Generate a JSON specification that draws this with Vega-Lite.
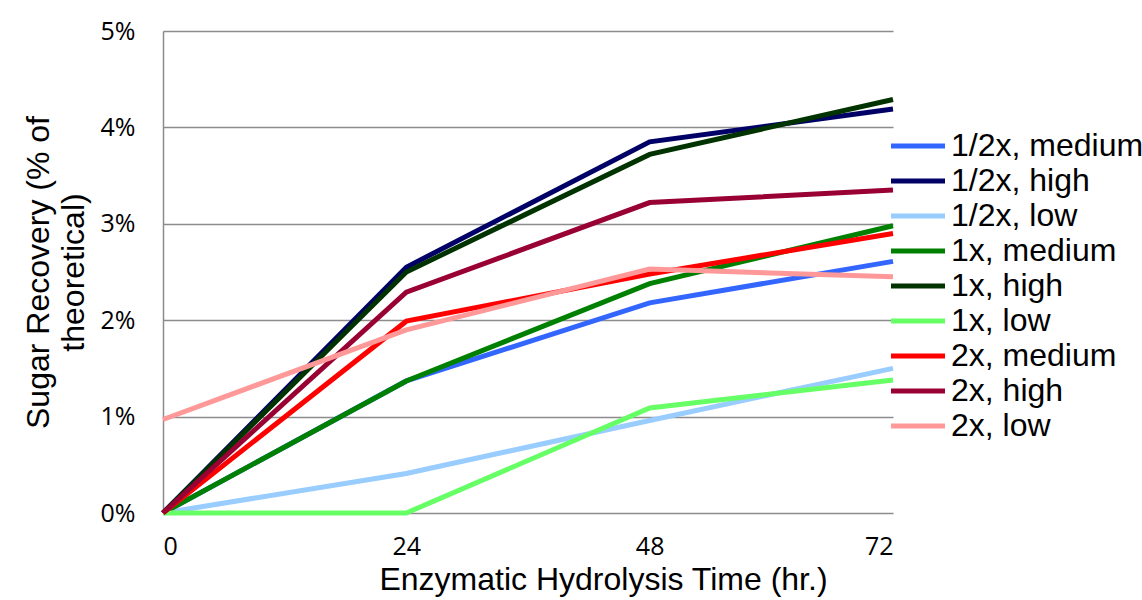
{
  "$schema": "https://vega.github.io/schema/vega-lite/v6.json",
  "width": 730,
  "height": 482,
  "autosize": {"type": "none"},
  "padding": {"left": 163, "top": 31, "right": 249, "bottom": 87},
  "background": "white",
  "data": {
    "values": [
      {"t": 0, "v": 0.0, "s": "1/2x, medium"},
      {"t": 24, "v": 1.37, "s": "1/2x, medium"},
      {"t": 48, "v": 2.18, "s": "1/2x, medium"},
      {"t": 72, "v": 2.61, "s": "1/2x, medium"},
      {"t": 0, "v": 0.0, "s": "1/2x, high"},
      {"t": 24, "v": 2.55, "s": "1/2x, high"},
      {"t": 48, "v": 3.85, "s": "1/2x, high"},
      {"t": 72, "v": 4.19, "s": "1/2x, high"},
      {"t": 0, "v": 0.0, "s": "1/2x, low"},
      {"t": 24, "v": 0.41, "s": "1/2x, low"},
      {"t": 48, "v": 0.96, "s": "1/2x, low"},
      {"t": 72, "v": 1.5, "s": "1/2x, low"},
      {"t": 0, "v": 0.0, "s": "1x, medium"},
      {"t": 24, "v": 1.37, "s": "1x, medium"},
      {"t": 48, "v": 2.38, "s": "1x, medium"},
      {"t": 72, "v": 2.98, "s": "1x, medium"},
      {"t": 0, "v": 0.0, "s": "1x, high"},
      {"t": 24, "v": 2.5, "s": "1x, high"},
      {"t": 48, "v": 3.72, "s": "1x, high"},
      {"t": 72, "v": 4.29, "s": "1x, high"},
      {"t": 0, "v": 0.0, "s": "1x, low"},
      {"t": 24, "v": 0.0, "s": "1x, low"},
      {"t": 48, "v": 1.09, "s": "1x, low"},
      {"t": 72, "v": 1.38, "s": "1x, low"},
      {"t": 0, "v": 0.0, "s": "2x, medium"},
      {"t": 24, "v": 1.99, "s": "2x, medium"},
      {"t": 48, "v": 2.48, "s": "2x, medium"},
      {"t": 72, "v": 2.9, "s": "2x, medium"},
      {"t": 0, "v": 0.0, "s": "2x, high"},
      {"t": 24, "v": 2.29, "s": "2x, high"},
      {"t": 48, "v": 3.22, "s": "2x, high"},
      {"t": 72, "v": 3.35, "s": "2x, high"},
      {"t": 0, "v": 0.97, "s": "2x, low"},
      {"t": 24, "v": 1.9, "s": "2x, low"},
      {"t": 48, "v": 2.53, "s": "2x, low"},
      {"t": 72, "v": 2.45, "s": "2x, low"}
    ]
  },
  "mark": {"type": "line", "strokeWidth": 5, "clip": false},
  "encoding": {
    "x": {
      "field": "t",
      "type": "quantitative",
      "scale": {"domain": [0, 72], "nice": false, "zero": false},
      "axis": {
        "values": [0, 24, 48, 72],
        "title": "Enzymatic Hydrolysis Time (hr.)",
        "titleFont": "Liberation Sans",
        "titleFontSize": 32,
        "titleFontWeight": "normal",
        "titleColor": "black",
        "titlePadding": 5,
        "titleX": 440,
        "titleAlign": "center",
        "labelFont": "Open Sans",
        "labelFontSize": 25,
        "labelColor": "black",
        "labelPadding": 21,
        "ticks": false,
        "grid": false,
        "domain": false
      }
    },
    "y": {
      "field": "v",
      "type": "quantitative",
      "scale": {"domain": [0, 5], "nice": false},
      "axis": {
        "values": [0, 1, 2, 3, 4, 5],
        "labelExpr": "datum.value + '%'",
        "title": ["Sugar Recovery (% of", "theoretical)"],
        "titleFont": "Liberation Sans",
        "titleFontSize": 32,
        "titleFontWeight": "normal",
        "titleColor": "black",
        "titlePadding": 10,
        "titleLineHeight": 35,
        "labelFont": "Open Sans",
        "labelFontSize": 25,
        "labelColor": "black",
        "labelPadding": 28,
        "ticks": false,
        "grid": true,
        "gridColor": "#8c8c8c",
        "gridWidth": 1.5,
        "domain": true,
        "domainColor": "#8c8c8c",
        "domainWidth": 1.5
      }
    },
    "color": {
      "field": "s",
      "type": "nominal",
      "sort": null,
      "scale": {
        "domain": ["1/2x, medium", "1/2x, high", "1/2x, low", "1x, medium", "1x, high", "1x, low", "2x, medium", "2x, high", "2x, low"],
        "range": ["#3366FF", "#000066", "#99CCFF", "#008000", "#003300", "#66FF66", "#FF0000", "#990033", "#FF9999"]
      },
      "legend": {
        "title": null,
        "orient": "none",
        "legendX": 739,
        "legendY": 99,
        "symbolType": "M-2.7,0H2.7",
        "symbolSize": 400,
        "symbolStrokeWidth": 5,
        "labelFont": "Liberation Sans",
        "labelFontSize": 32,
        "labelColor": "black",
        "labelOffset": 17,
        "rowPadding": 3,
        "labelLimit": 300
      }
    }
  },
  "config": {
    "view": {"stroke": null}
  }
}
